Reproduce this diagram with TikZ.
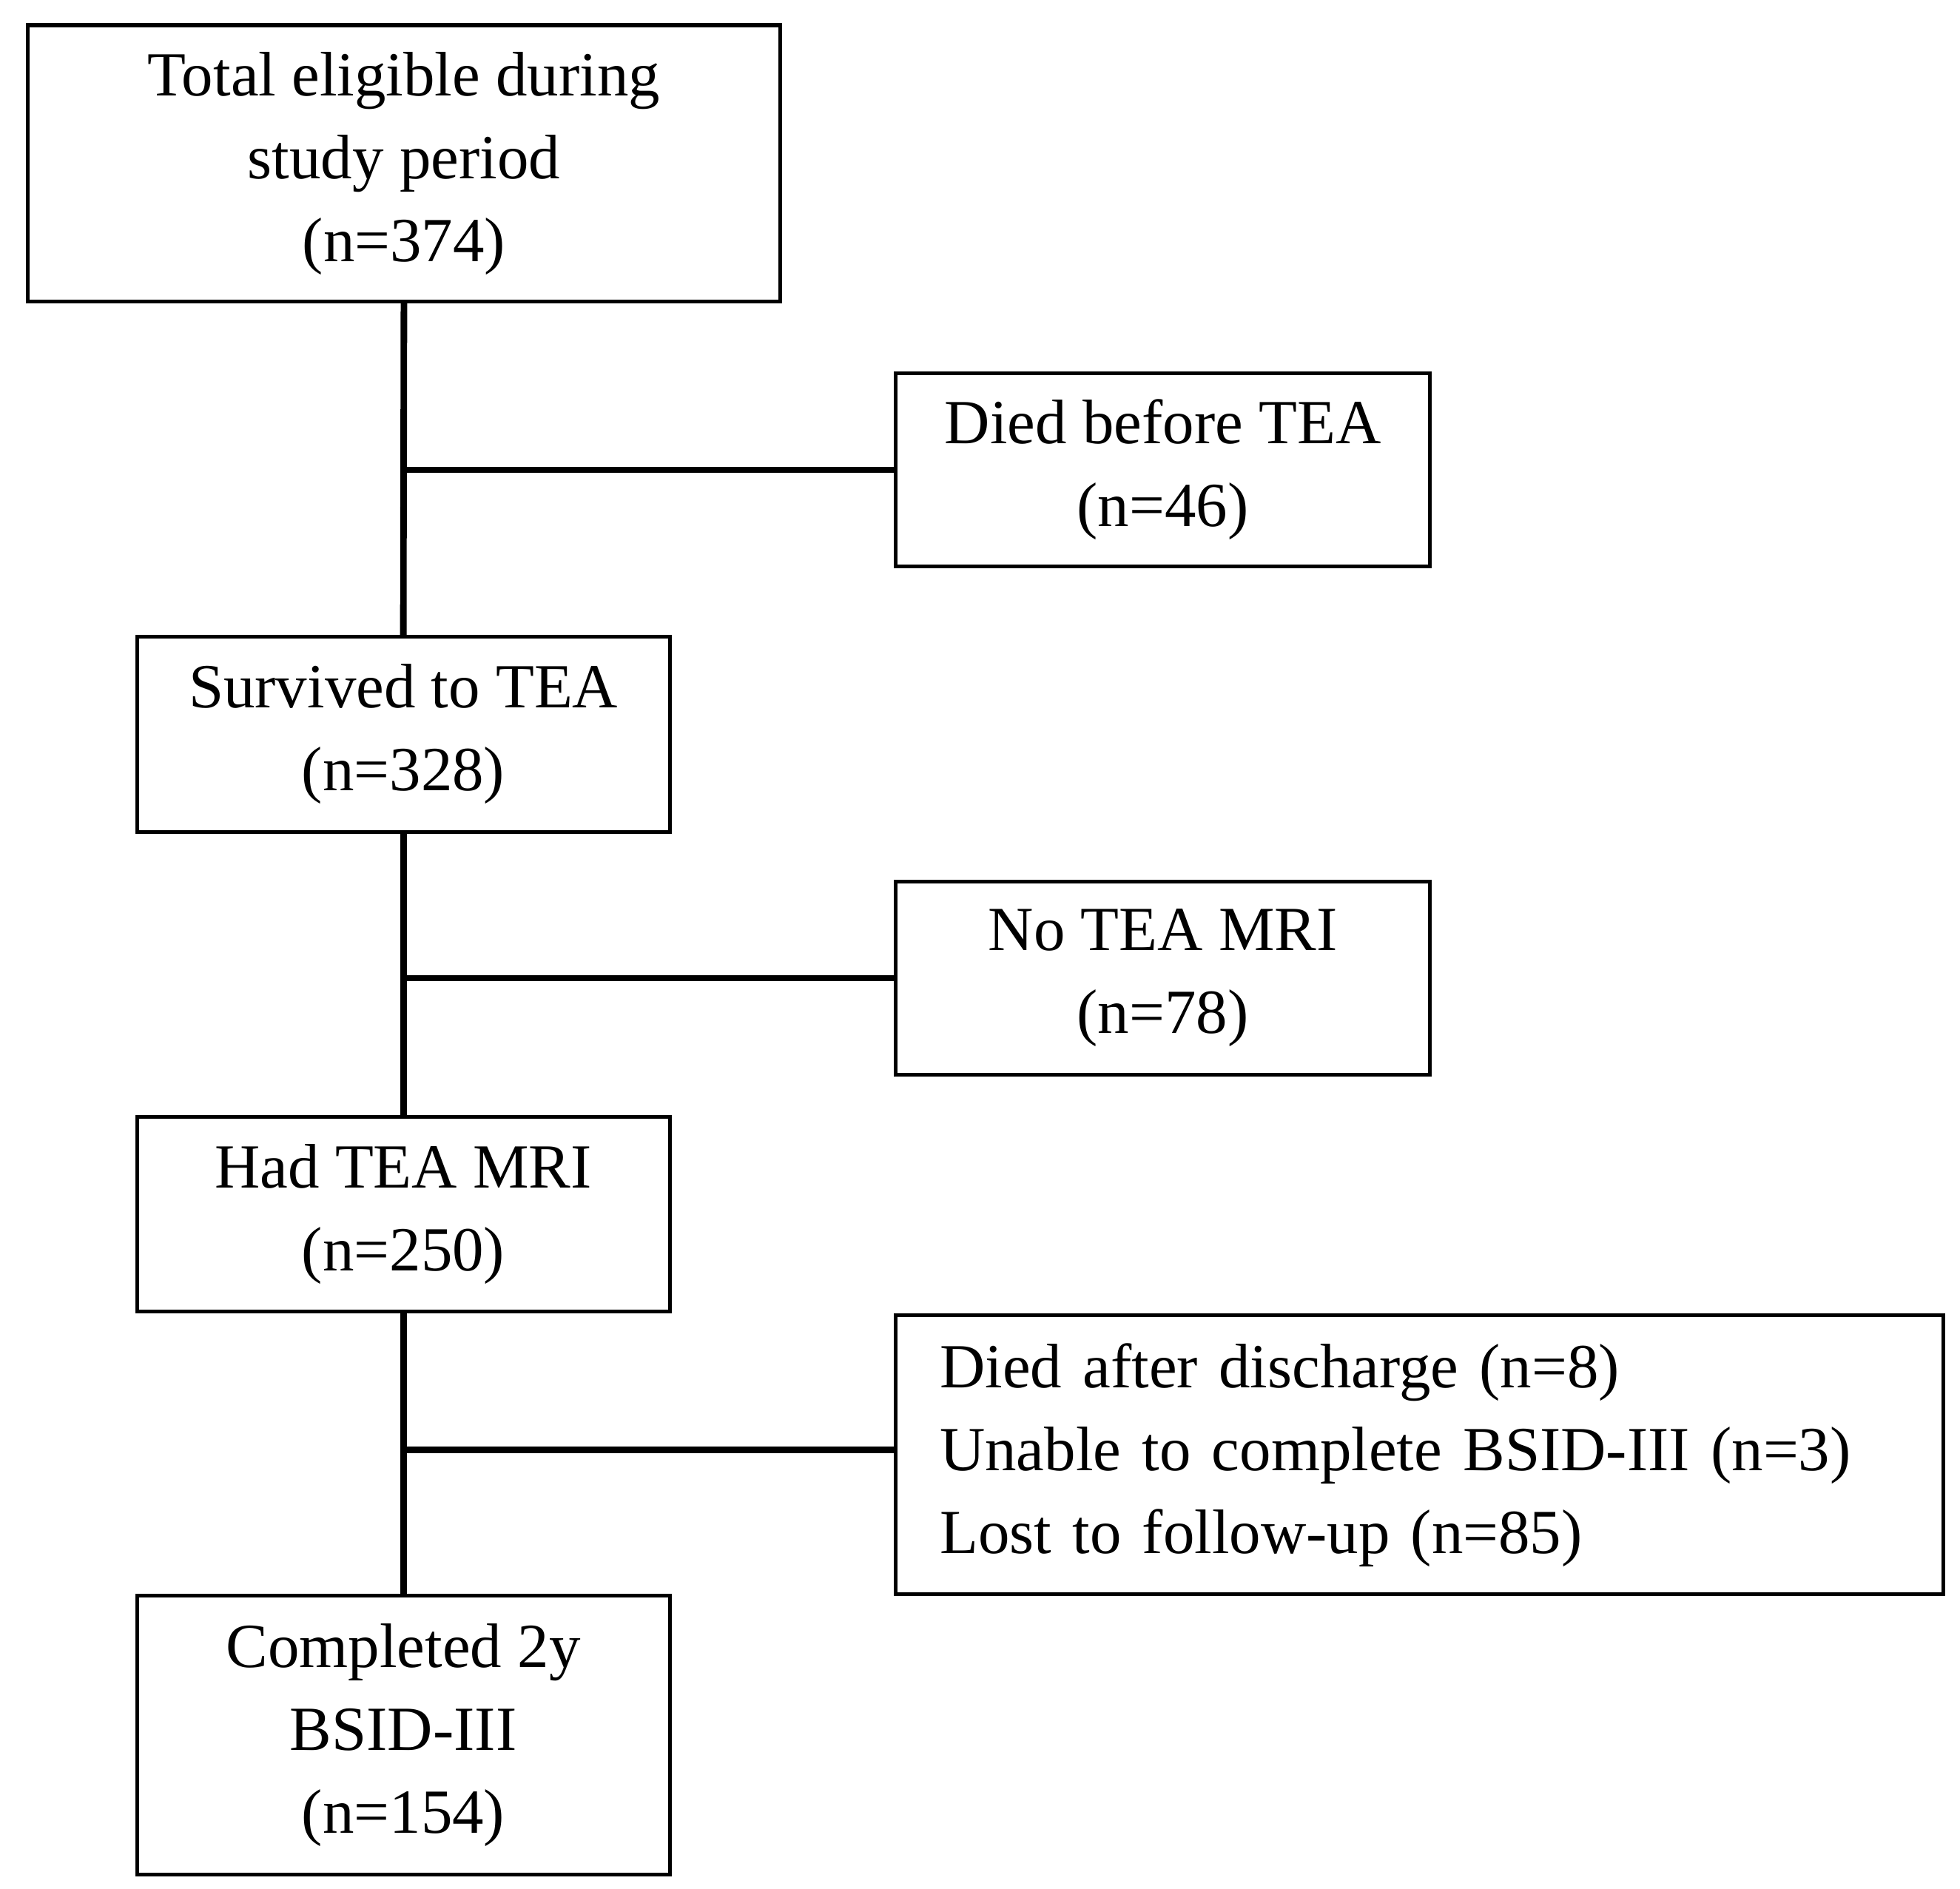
\documentclass[tikz,border=0pt]{standalone}
\usepackage{fontspec}
\setmainfont{Liberation Serif}
\begin{document}
\begin{tikzpicture}[x=0.5pt,y=-0.5pt,
 box/.style={draw,line width=1.5pt,align=center,inner sep=0pt,font=\fontsize{25}{33}\selectfont},
 conn/.style={line width=2.6pt}]
\useasboundingbox (0,0) rectangle (1560,1503);
\node[box,minimum width=299.5pt,minimum height=110pt] (b1) at (321.5,130) {Total eligible during\\study period\\(n=374)};
\node[box,minimum width=212.5pt,minimum height=77pt] (b2) at (925.5,374) {Died before TEA\\(n=46)};
\node[box,minimum width=212pt,minimum height=77.5pt] (b3) at (321,584.5) {Survived to TEA\\(n=328)};
\node[box,minimum width=212.5pt,minimum height=77pt] (b4) at (925.5,778.5) {No TEA MRI\\(n=78)};
\node[box,minimum width=212pt,minimum height=77.5pt] (b5) at (321,966.5) {Had TEA MRI\\(n=250)};
\node[box,minimum width=417pt,minimum height=111pt,align=left,text width=405pt,inner xsep=0pt] (b6) at (1130,1158) {\hspace*{11.5pt}Died after discharge (n=8)\\\hspace*{11.5pt}Unable to complete BSID-III (n=3)\\\hspace*{11.5pt}Lost to follow-up (n=85)};
\node[box,minimum width=212pt,minimum height=111pt] (b7) at (321,1381) {Completed 2y\\BSID-III\\(n=154)};
\coordinate (j1) at (b1.south |- b2.west);
\coordinate (j2) at (b3.south |- b4.west);
\coordinate (j3) at (b5.south |- 0,1154);
\draw[conn] (b1.south) -- (b3.north);
\draw[conn] (b3.south) -- (b5.north);
\draw[conn] (b5.south) -- (b7.north);
\draw[conn] (j1) -- (b2.west);
\draw[conn] (j2) -- (b4.west);
\draw[conn] (j3) -- (j3 -| b6.west);
\end{tikzpicture}
\end{document}
